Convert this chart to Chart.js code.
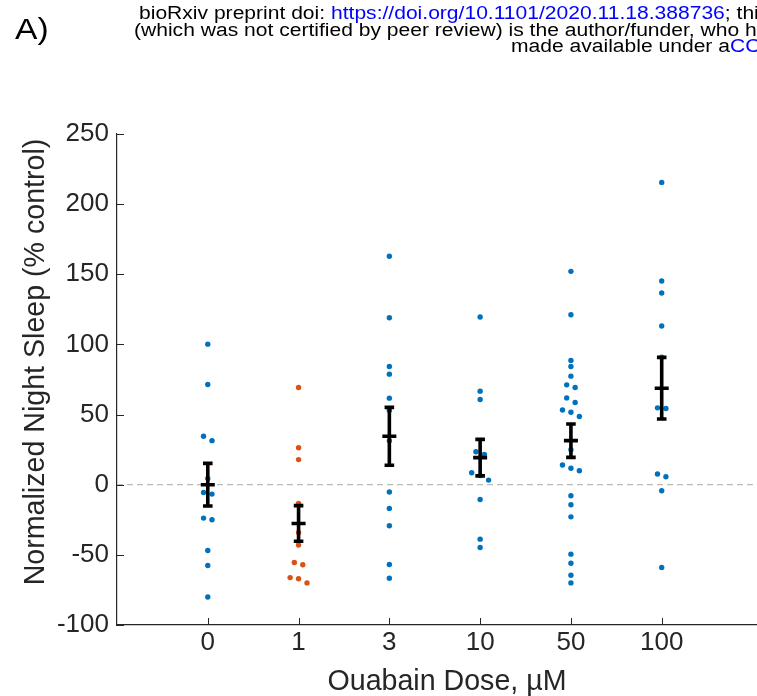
<!DOCTYPE html>
<html>
<head>
<meta charset="utf-8">
<script src="https://cdn.jsdelivr.net/npm/chart.js@4.4.1/dist/chart.umd.min.js"></script>
<style>
  html,body{margin:0;padding:0;background:#fff;overflow:hidden;}
  #wrap{position:relative;width:757px;height:696px;overflow:hidden;}
  #plot{position:absolute;left:0;top:0;}
  .hdr{position:absolute;white-space:nowrap;font-family:"Liberation Sans",Arial,sans-serif;color:#000;
       transform-origin:0 0;line-height:1;}
  .hdr a{color:#0000ff;text-decoration:none;}
  .ln{font-size:18px;transform:scaleX(1.17);}
</style>
</head>
<body>
<div id="wrap">
  <canvas id="plot" width="781" height="696"></canvas>
  <div class="hdr" style="left:14.5px;top:13.6px;font-size:30px;transform:scaleX(1.12);">A)</div>
  <div class="hdr ln" style="left:139px;top:4.3px;">bioRxiv preprint doi: <a>https://doi.org/10.1101/2020.11.18.388736</a>; this version posted November 19, 2020. The copyright holder for this preprint</div>
  <div class="hdr ln" style="left:134px;top:20.8px;">(which was not certified by peer review) is the author/funder, who has granted bioRxiv a license to display the preprint in perpetuity. It is</div>
  <div class="hdr ln" style="left:510.5px;top:37.3px;">made available under a<a>CC-BY-NC-ND 4.0 International license</a>.</div>
</div>
<script>
// doses on the x axis
const doses=['0','1','3','10','50','100'];
// individual fish, % of control night sleep
const pts0=[100.2,71.4,34.5,31.4,4.5,-5.5,-6.7,-23.8,-25,-46.9,-57.6,-80];
const pts1=[69.3,26.4,17.9,-13.3,-34,-43,-55.5,-57,-66.2,-67,-70];
const pts3=[162.9,119,84.3,78.8,61.7,52.9,31.4,-5.2,-16.9,-29.3,-56.9,-66.7];
const pts10=[119.5,66.7,60.7,23.5,21.5,8.5,6.5,3.3,-10.5,-38.8,-44.8];
const pts50=[152.1,121.2,88.6,84.3,77.4,71.2,69.3,61.9,58.6,53.3,51.7,48.6,25,14,11.7,10,-7.9,-14.3,-22.9,-49.5,-56,-64.5,-70];
const pts100=[215.5,145.2,136.7,113.1,90.9,54.8,54.3,7.6,5.7,-4.3,-59];
// group mean and SEM
const means=[0,-27.6,34.5,19.3,31.4,68.8];
const sems=[15.2,12.7,20.6,13,11.9,22];
const yTicks=[-100,-50,0,50,100,150,200,250];

const BLUE='#0072BD', ORANGE='#D95319', AX='#262626';
const FONT='"Liberation Sans", Arial, sans-serif';

// spread nearly-equal values sideways a bit, like a swarm
function swarm(vals,pos){
  const s=[...vals].sort((a,b)=>b-a);
  const out=[];let grp=[];
  const flush=()=>{grp.forEach((v,i)=>out.push({x:pos+(i-(grp.length-1)/2)*0.093,y:v}));grp=[];};
  s.forEach(v=>{ if(grp.length&&grp[grp.length-1]-v>3.5) flush(); grp.push(v); });
  flush();
  return out;
}
const groups=[pts0,pts1,pts3,pts10,pts50,pts100];
const bluePts=[], orangePts=[];
groups.forEach((g,i)=>{ (i===1?orangePts:bluePts).push(...swarm(g,i+1)); });

const errBars={id:'errBars',afterDatasetsDraw(chart){
  const {ctx,scales:{x,y}}=chart;
  ctx.save();ctx.strokeStyle='#000';ctx.lineWidth=3.6;ctx.lineCap='butt';
  means.forEach((m,i)=>{
    const px=x.getPixelForValue(i+1);
    const t=y.getPixelForValue(m+sems[i]), b=y.getPixelForValue(m-sems[i]), c=y.getPixelForValue(m);
    ctx.beginPath();
    ctx.moveTo(px,t);ctx.lineTo(px,b);
    ctx.moveTo(px-4.8,t);ctx.lineTo(px+4.8,t);
    ctx.moveTo(px-4.8,b);ctx.lineTo(px+4.8,b);
    ctx.moveTo(px-7,c);ctx.lineTo(px+7,c);
    ctx.stroke();
  });
  ctx.restore();
}};

// inward ticks and the y label (sits a little above the axis centre)
const axisDeco={id:'axisDeco',afterDraw(chart){
  const {ctx,scales:{x,y},chartArea:a}=chart;
  ctx.save();ctx.strokeStyle=AX;ctx.lineWidth=1;
  ctx.beginPath();
  yTicks.forEach(v=>{const py=Math.round(y.getPixelForValue(v))+0.5;ctx.moveTo(a.left,py);ctx.lineTo(a.left+7,py);});
  doses.forEach((d,i)=>{const px=Math.round(x.getPixelForValue(i+1))+0.5;ctx.moveTo(px,a.bottom);ctx.lineTo(px,a.bottom-7);});
  ctx.stroke();
  ctx.translate(36.5,362);ctx.rotate(-Math.PI/2);
  ctx.fillStyle=AX;ctx.font='28.6px '+FONT;ctx.textAlign='center';ctx.textBaseline='middle';
  ctx.fillText('Normalized Night Sleep (% control)',0,0);
  ctx.restore();
}};

new Chart(document.getElementById('plot'),{
  type:'scatter',
  data:{datasets:[
    {data:bluePts,backgroundColor:BLUE,pointRadius:2.7,pointBorderWidth:0,order:1},
    {data:orangePts,backgroundColor:ORANGE,pointRadius:2.7,pointBorderWidth:0,order:1},
    {type:'line',data:[{x:0,y:0},{x:7.27,y:0}],borderColor:'#aaaaaa',borderWidth:1,borderDash:[6,4],pointRadius:0,order:5}
  ]},
  options:{
    responsive:false,animation:false,
    layout:{padding:{top:134,left:0,right:0,bottom:0}},
    plugins:{legend:{display:false},tooltip:{enabled:false}},
    scales:{
      x:{type:'linear',min:0,max:7.27,
        afterBuildTicks:s=>{s.ticks=doses.map((d,i)=>({value:i+1}));},
        afterFit:s=>{s.height=71;},
        grid:{display:false,drawTicks:false},
        border:{display:true,color:AX,width:1.2},
        ticks:{autoSkip:false,maxRotation:0,padding:2,color:AX,font:{family:FONT,size:26},callback:v=>doses[v-1]},
        title:{display:true,text:'Ouabain Dose, µM',color:AX,font:{family:FONT,size:28.6,lineHeight:1},padding:{top:0,bottom:0}}
      },
      y:{min:-100,max:250,
        afterBuildTicks:s=>{s.ticks=yTicks.map(v=>({value:v}));},
        afterFit:s=>{s.width=117;},
        grid:{display:false,drawTicks:false},
        border:{display:true,color:AX,width:1.2},
        ticks:{padding:8,color:AX,font:{family:FONT,size:26}}
      }
    }
  },
  plugins:[errBars,axisDeco]
});
</script>
</body>
</html>
